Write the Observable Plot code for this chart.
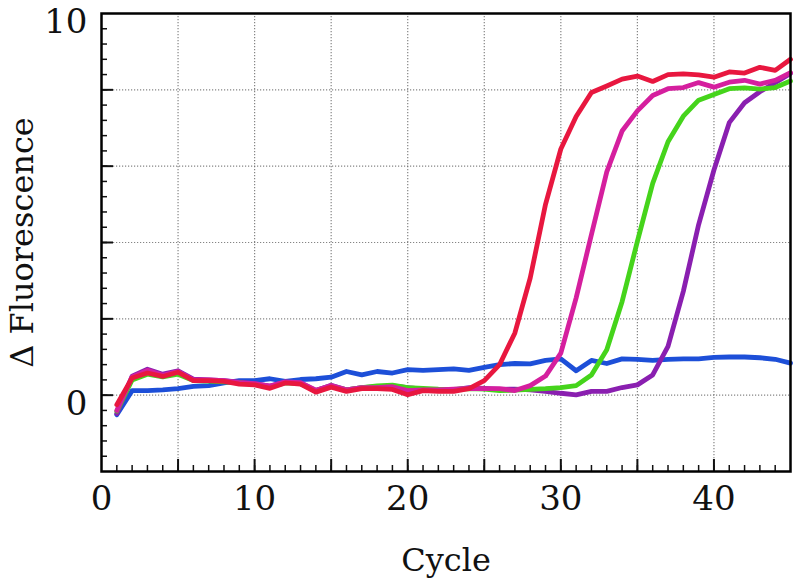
<!DOCTYPE html>
<html><head><meta charset="utf-8">
<script src="https://cdn.jsdelivr.net/npm/d3@7"></script>
<script src="https://cdn.jsdelivr.net/npm/@observablehq/plot@0.6"></script>
<style>body{margin:0;background:#fff} svg{display:block}</style>
</head><body><div id="chart"></div>
<script>
const cycles = [1,2,3,4,5,6,7,8,9,10,11,12,13,14,15,16,17,18,19,20,21,22,23,24,25,26,27,28,29,30,31,32,33,34,35,36,37,38,39,40,41,42,43,44,45];

const control = [-0.51,0.12,0.12,0.14,0.17,0.23,0.25,0.32,0.38,0.38,0.43,0.36,0.41,0.43,0.47,0.62,0.53,0.62,0.58,0.67,0.65,0.67,0.69,0.65,0.73,0.80,0.83,0.82,0.91,0.95,0.64,0.91,0.83,0.95,0.94,0.91,0.94,0.95,0.95,0.99,1.00,1.00,0.98,0.94,0.84];
const sample4 = [-0.48,0.50,0.68,0.55,0.64,0.42,0.40,0.38,0.34,0.30,0.24,0.34,0.32,0.12,0.26,0.14,0.20,0.22,0.24,0.20,0.16,0.15,0.14,0.20,0.18,0.15,0.16,0.14,0.10,0.05,0.01,0.10,0.10,0.20,0.27,0.53,1.28,2.72,4.47,5.90,7.14,7.66,7.95,8.19,8.43];
const sample3 = [-0.42,0.40,0.55,0.48,0.55,0.38,0.37,0.35,0.32,0.28,0.22,0.32,0.30,0.12,0.24,0.14,0.20,0.24,0.26,0.20,0.18,0.16,0.15,0.17,0.16,0.12,0.13,0.15,0.17,0.20,0.25,0.53,1.19,2.45,4.03,5.55,6.64,7.31,7.73,7.88,8.03,8.05,8.02,8.06,8.23];
const sample2 = [-0.40,0.48,0.65,0.52,0.62,0.40,0.40,0.38,0.33,0.30,0.24,0.35,0.33,0.13,0.25,0.14,0.20,0.20,0.22,0.12,0.14,0.14,0.16,0.18,0.17,0.17,0.12,0.25,0.50,1.10,2.55,4.21,5.85,6.92,7.45,7.85,8.03,8.06,8.19,8.07,8.20,8.25,8.15,8.25,8.45];
const sample1 = [-0.25,0.45,0.58,0.49,0.60,0.38,0.38,0.36,0.29,0.27,0.18,0.32,0.29,0.08,0.21,0.10,0.17,0.17,0.15,0.01,0.12,0.10,0.10,0.17,0.38,0.80,1.63,3.07,5.00,6.45,7.30,7.93,8.10,8.28,8.36,8.22,8.40,8.42,8.39,8.33,8.47,8.44,8.59,8.51,8.80];

const seriesNames = ["control", "sample4", "sample3", "sample2", "sample1"];
const seriesValues = [control, sample4, sample3, sample2, sample1];
const seriesColors = ["#1d4fd8", "#8a1fb0", "#45d41b", "#d51f9e", "#e8173f"];

const xLabelTicks = [0, 10, 20, 30, 40];
const yLabelTicks = [0, 10];
const xMajorTicks = [5, 10, 15, 20, 25, 30, 35, 40];
const yMajorTicks = [0, 2, 4, 6, 8];
const xGrid = [5, 10, 15, 20, 25, 30, 35, 40];
const yGrid = [0, 2, 4, 6, 8];
const xMinorTicks = d3.range(1, 45, 1);
const yMinorTicks = d3.range(-1.6, 10, 0.4);

const data = [];
seriesNames.forEach((name, i) => {
  cycles.forEach((c, j) => data.push({series: name, cycle: c, value: seriesValues[i][j]}));
});

const W = 799, H = 585, mL = 101, mR = 9, mT = 13, mB = 114;
const plotW = W - mL - mR, plotH = H - mT - mB;

const gridStyle = {stroke: "#666", strokeOpacity: 0.8, strokeWidth: 1.2, strokeDasharray: "1.2,1.8"};

const chart = Plot.plot({
  width: W,
  height: H,
  marginLeft: mL,
  marginRight: mR,
  marginTop: mT,
  marginBottom: mB,
  style: {fontFamily: "DejaVu Serif", background: "white", color: "#111", overflow: "visible"},
  x: {domain: [0, 45]},
  y: {domain: [-2, 10]},
  color: {domain: seriesNames, range: seriesColors},
  marks: [
    Plot.gridX(xGrid, gridStyle),
    Plot.gridY(yGrid, gridStyle),
    Plot.line(data, {x: "cycle", y: "value", z: "series", stroke: "series", strokeWidth: 4.8, strokeLinejoin: "round", strokeLinecap: "round"}),
    Plot.tickX(xMinorTicks, {x: d => d, insetTop: plotH - 6, stroke: "#111", strokeWidth: 1.5}),
    Plot.tickX(xMajorTicks, {x: d => d, insetTop: plotH - 12, stroke: "#111", strokeWidth: 2}),
    Plot.tickY(yMinorTicks, {y: d => d, insetRight: plotW - 6, stroke: "#111", strokeWidth: 1.5}),
    Plot.tickY(yMajorTicks, {y: d => d, insetRight: plotW - 12, stroke: "#111", strokeWidth: 2}),
    Plot.axisX(xLabelTicks, {tickSize: 0, tickPadding: 14, fontSize: 34, label: null}),
    Plot.axisX([], {tickSize: 0, label: "Cycle", labelAnchor: "center", labelArrow: "none", labelOffset: 99, fontSize: 32}),
    Plot.axisY(yLabelTicks, {tickSize: 0, tickPadding: 14, fontSize: 34, label: null, dy: 9}),
    Plot.axisY([], {tickSize: 0, label: "Δ Fluorescence", labelAnchor: "center", labelArrow: "none", labelOffset: 91, fontSize: 32}),
    Plot.frame({stroke: "black", strokeWidth: 2.5})
  ]
});
document.getElementById("chart").appendChild(chart);
</script>
</body></html>
